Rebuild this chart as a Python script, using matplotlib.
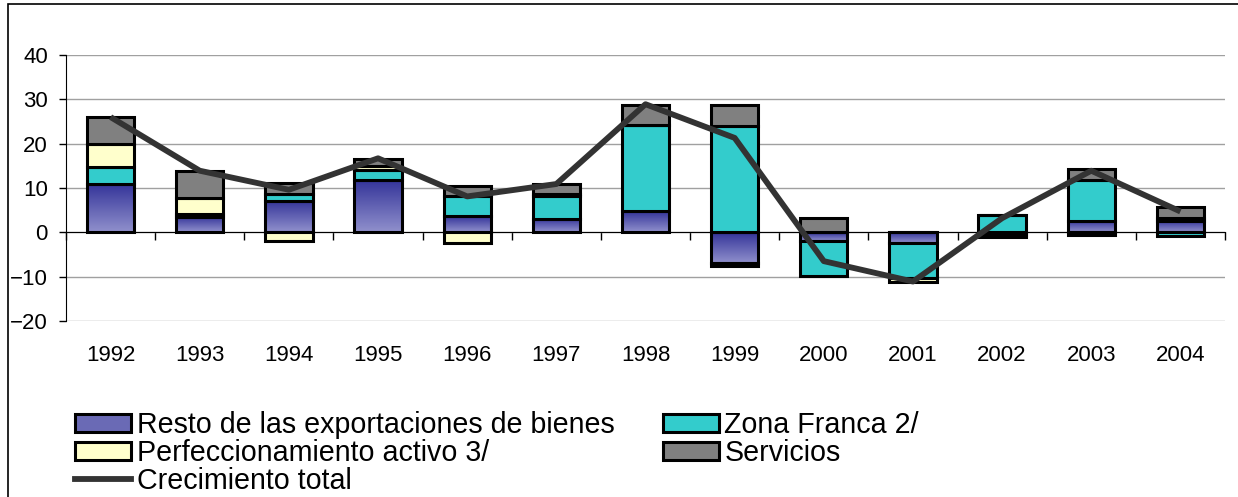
import numpy as np
import matplotlib.pyplot as plt
from matplotlib.patches import Patch, Rectangle
from matplotlib.lines import Line2D
from matplotlib.colors import LinearSegmentedColormap
import matplotlib.transforms as mtransforms

plt.rcParams['font.family'] = ['Liberation Sans', 'DejaVu Sans']

# Datos
anios = ['1992', '1993', '1994', '1995', '1996', '1997', '1998',
         '1999', '2000', '2001', '2002', '2003', '2004']
resto = [11.0, 3.4, 7.0, 11.9, 3.6, 3.0, 4.7, -6.9, -2.0, -2.4, -0.6, 2.5, 2.5]
zona_franca = [3.7, 0.8, 1.6, 2.2, 4.7, 5.1, 19.6, 23.9, -7.9, -7.9, 4.0, 9.4, -0.9]
perfeccionamiento = [5.3, 3.5, -2.0, 0.9, -2.4, 0.5, 0.0, -0.7, 0.0, -0.8, -0.5, -0.7, 0.8]
servicios = [6.0, 6.2, 2.5, 1.6, 2.1, 2.3, 4.5, 4.9, 3.2, 0.0, 0.0, 2.4, 2.4]
crecimiento = [26.0, 13.9, 9.6, 16.7, 8.1, 10.9, 28.9, 21.3, -6.5, -11.1, 3.2, 13.9, 4.7]

series = [resto, zona_franca, perfeccionamiento, servicios]
colores = ['none', '#33CCCC', '#FFFFCC', '#808080']
nombres = ['Resto de las exportaciones de bienes', 'Zona Franca 2/',
           'Perfeccionamiento activo 3/', 'Servicios']

fig = plt.figure(figsize=(12.38, 4.97), dpi=100)
ax = fig.add_axes([66 / 1238, 1 - 321 / 497, (1225 - 66) / 1238, (321 - 55) / 497])

x = np.arange(len(anios))
ancho = 0.53
pos = np.zeros(len(anios))
neg = np.zeros(len(anios))

grad_cmap = LinearSegmentedColormap.from_list('azul', ['#9090CC', '#333399'])
grad = np.linspace(0, 1, 100).reshape(-1, 1)

for i, (vals, col) in enumerate(zip(series, colores)):
    vals = np.array(vals)
    base = np.where(vals >= 0, pos, neg)
    barras = ax.bar(x, vals, ancho, bottom=base, color=col,
                    edgecolor='black', linewidth=2.2, zorder=3)
    if i == 0:
        # degradado azul dentro de cada barra
        for b in barras:
            x0, y0 = b.get_x(), b.get_y()
            w, h = b.get_width(), b.get_height()
            ylo, yhi = min(y0, y0 + h), max(y0, y0 + h)
            im = ax.imshow(grad, extent=[x0, x0 + w, ylo, yhi], origin='lower',
                           cmap=grad_cmap, aspect='auto', zorder=2.5)
            im.set_clip_path(b)
    pos = pos + np.where(vals >= 0, vals, 0)
    neg = neg + np.where(vals < 0, vals, 0)

ax.plot(x, crecimiento, color='#333333', linewidth=4.2, zorder=5,
        solid_capstyle='butt')

ax.set_xlim(-0.5, len(anios) - 0.5)
ax.set_ylim(-20, 40)
ax.set_yticks(range(-20, 41, 10))
ax.yaxis.grid(True, color='#A0A0A0', linewidth=1)
ax.set_axisbelow(True)
ax.tick_params(axis='y', labelsize=16, length=5, width=1, pad=8)

for s in ['top', 'right']:
    ax.spines[s].set_visible(False)
ax.spines['bottom'].set_position(('data', 0))
ax.spines['bottom'].set_zorder(2)
ax.set_xticks(np.arange(-0.5, len(anios), 1))
ax.set_xticklabels([])
ax.tick_params(axis='x', direction='out', length=6, width=1)

trans = mtransforms.blended_transform_factory(ax.transData, ax.transAxes)
for xi, a in zip(x, anios):
    ax.text(xi, -0.128, a, transform=trans, ha='center', va='center', fontsize=16)

# leyenda
lw_leg = 2.2
h_resto = Patch(facecolor='#6A6AB5', edgecolor='black', linewidth=lw_leg)
h_zona = Patch(facecolor='#33CCCC', edgecolor='black', linewidth=lw_leg)
h_perf = Patch(facecolor='#FFFFCC', edgecolor='black', linewidth=lw_leg)
h_serv = Patch(facecolor='#808080', edgecolor='black', linewidth=lw_leg)
h_crec = Line2D([], [], color='#333333', linewidth=4.2)
fig.legend([h_resto, h_perf, h_crec, h_zona, h_serv],
           [nombres[0], nombres[2], 'Crecimiento total', nombres[1], nombres[3]],
           ncol=2, loc='upper left', bbox_to_anchor=(75 / 1238, 1 - 411 / 497),
           frameon=False, fontsize=20.6, handlelength=1.95, handleheight=0.6,
           handletextpad=0.2, columnspacing=1.7, labelspacing=0.0,
           borderpad=0, borderaxespad=0)

# marco exterior
fig.patches.append(Rectangle((8 / 1238, -0.1), 1.2, 1 - 4 / 497 + 0.1,
                             transform=fig.transFigure, fill=False,
                             edgecolor='black', linewidth=1.2))

fig.savefig('out.png', dpi=100)
